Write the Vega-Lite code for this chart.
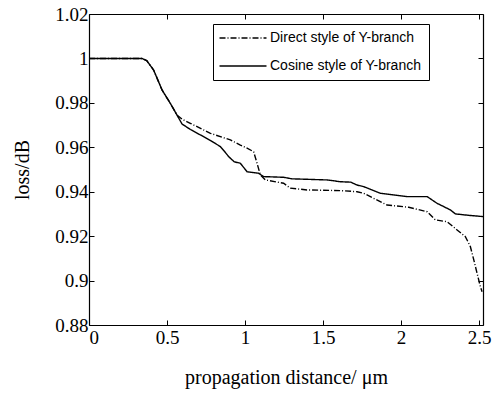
{
  "$schema": "https://vega.github.io/schema/vega-lite/v6.json",
  "width": 394,
  "height": 311,
  "autosize": {"type": "none"},
  "padding": {"left": 89, "top": 14, "right": 12, "bottom": 68},
  "background": "white",
  "config": {
    "view": {"stroke": null},
    "axis": {"grid": false, "domainColor": "black", "tickColor": "black", "labelColor": "black", "titleColor": "black", "labelFont": "Liberation Serif", "titleFont": "Liberation Serif", "labelFontSize": 19, "titleFontSize": 20, "titleFontWeight": "normal", "domainWidth": 1.2, "tickWidth": 1},
    "legend": {"orient": "none", "legendX": 124, "legendY": 10, "strokeColor": "black", "padding": 7, "symbolType": "M-4,0H4", "symbolSize": 138, "symbolOffset": 16, "symbolStrokeColor": "black", "symbolStrokeWidth": 1.4, "labelFont": "Liberation Sans", "labelFontSize": 14, "labelOffset": 20, "rowPadding": 14, "labelColor": "black", "fillColor": "white"}
  },
  "data": {"values": [
    {"x": 0, "loss": 1.0, "series": "Direct style of Y-branch"},
    {"x": 0.34, "loss": 1.0, "series": "Direct style of Y-branch"},
    {"x": 0.37, "loss": 0.999, "series": "Direct style of Y-branch"},
    {"x": 0.414, "loss": 0.9948, "series": "Direct style of Y-branch"},
    {"x": 0.468, "loss": 0.9858, "series": "Direct style of Y-branch"},
    {"x": 0.521, "loss": 0.9798, "series": "Direct style of Y-branch"},
    {"x": 0.564, "loss": 0.9745, "series": "Direct style of Y-branch"},
    {"x": 0.6, "loss": 0.9725, "series": "Direct style of Y-branch"},
    {"x": 0.649, "loss": 0.9708, "series": "Direct style of Y-branch"},
    {"x": 0.778, "loss": 0.9663, "series": "Direct style of Y-branch"},
    {"x": 0.906, "loss": 0.9633, "series": "Direct style of Y-branch"},
    {"x": 0.97, "loss": 0.961, "series": "Direct style of Y-branch"},
    {"x": 1.013, "loss": 0.9596, "series": "Direct style of Y-branch"},
    {"x": 1.055, "loss": 0.958, "series": "Direct style of Y-branch"},
    {"x": 1.077, "loss": 0.9528, "series": "Direct style of Y-branch"},
    {"x": 1.098, "loss": 0.9476, "series": "Direct style of Y-branch"},
    {"x": 1.13, "loss": 0.9453, "series": "Direct style of Y-branch"},
    {"x": 1.247, "loss": 0.9438, "series": "Direct style of Y-branch"},
    {"x": 1.29, "loss": 0.9416, "series": "Direct style of Y-branch"},
    {"x": 1.397, "loss": 0.9408, "series": "Direct style of Y-branch"},
    {"x": 1.611, "loss": 0.9405, "series": "Direct style of Y-branch"},
    {"x": 1.718, "loss": 0.94, "series": "Direct style of Y-branch"},
    {"x": 1.76, "loss": 0.9393, "series": "Direct style of Y-branch"},
    {"x": 1.824, "loss": 0.937, "series": "Direct style of Y-branch"},
    {"x": 1.91, "loss": 0.934, "series": "Direct style of Y-branch"},
    {"x": 2.049, "loss": 0.933, "series": "Direct style of Y-branch"},
    {"x": 2.167, "loss": 0.931, "series": "Direct style of Y-branch"},
    {"x": 2.22, "loss": 0.9273, "series": "Direct style of Y-branch"},
    {"x": 2.295, "loss": 0.9265, "series": "Direct style of Y-branch"},
    {"x": 2.359, "loss": 0.9228, "series": "Direct style of Y-branch"},
    {"x": 2.412, "loss": 0.9198, "series": "Direct style of Y-branch"},
    {"x": 2.444, "loss": 0.9153, "series": "Direct style of Y-branch"},
    {"x": 2.466, "loss": 0.9093, "series": "Direct style of Y-branch"},
    {"x": 2.487, "loss": 0.9033, "series": "Direct style of Y-branch"},
    {"x": 2.508, "loss": 0.8973, "series": "Direct style of Y-branch"},
    {"x": 2.519, "loss": 0.895, "series": "Direct style of Y-branch"},
    {"x": 0, "loss": 1.0, "series": "Cosine style of Y-branch"},
    {"x": 0.34, "loss": 1.0, "series": "Cosine style of Y-branch"},
    {"x": 0.37, "loss": 0.999, "series": "Cosine style of Y-branch"},
    {"x": 0.414, "loss": 0.9948, "series": "Cosine style of Y-branch"},
    {"x": 0.468, "loss": 0.9858, "series": "Cosine style of Y-branch"},
    {"x": 0.521, "loss": 0.9798, "series": "Cosine style of Y-branch"},
    {"x": 0.564, "loss": 0.9745, "series": "Cosine style of Y-branch"},
    {"x": 0.596, "loss": 0.9705, "series": "Cosine style of Y-branch"},
    {"x": 0.65, "loss": 0.968, "series": "Cosine style of Y-branch"},
    {"x": 0.713, "loss": 0.9656, "series": "Cosine style of Y-branch"},
    {"x": 0.78, "loss": 0.963, "series": "Cosine style of Y-branch"},
    {"x": 0.842, "loss": 0.9603, "series": "Cosine style of Y-branch"},
    {"x": 0.87, "loss": 0.958, "series": "Cosine style of Y-branch"},
    {"x": 0.895, "loss": 0.9558, "series": "Cosine style of Y-branch"},
    {"x": 0.93, "loss": 0.9535, "series": "Cosine style of Y-branch"},
    {"x": 0.97, "loss": 0.9528, "series": "Cosine style of Y-branch"},
    {"x": 1.013, "loss": 0.949, "series": "Cosine style of Y-branch"},
    {"x": 1.087, "loss": 0.9483, "series": "Cosine style of Y-branch"},
    {"x": 1.119, "loss": 0.9468, "series": "Cosine style of Y-branch"},
    {"x": 1.247, "loss": 0.9465, "series": "Cosine style of Y-branch"},
    {"x": 1.301, "loss": 0.9458, "series": "Cosine style of Y-branch"},
    {"x": 1.526, "loss": 0.9453, "series": "Cosine style of Y-branch"},
    {"x": 1.611, "loss": 0.9445, "series": "Cosine style of Y-branch"},
    {"x": 1.677, "loss": 0.9443, "series": "Cosine style of Y-branch"},
    {"x": 1.718, "loss": 0.943, "series": "Cosine style of Y-branch"},
    {"x": 1.76, "loss": 0.9423, "series": "Cosine style of Y-branch"},
    {"x": 1.867, "loss": 0.9393, "series": "Cosine style of Y-branch"},
    {"x": 2.038, "loss": 0.9378, "series": "Cosine style of Y-branch"},
    {"x": 2.167, "loss": 0.9378, "series": "Cosine style of Y-branch"},
    {"x": 2.23, "loss": 0.9348, "series": "Cosine style of Y-branch"},
    {"x": 2.316, "loss": 0.9318, "series": "Cosine style of Y-branch"},
    {"x": 2.348, "loss": 0.93, "series": "Cosine style of Y-branch"},
    {"x": 2.444, "loss": 0.9293, "series": "Cosine style of Y-branch"},
    {"x": 2.525, "loss": 0.9288, "series": "Cosine style of Y-branch"}
  ]},
  "layer": [
    {
      "mark": {"type": "line", "color": "black", "strokeWidth": 1.4, "clip": true},
      "encoding": {
        "x": {"field": "x", "type": "quantitative", "scale": {"domain": [0, 2.525], "nice": false, "zero": false},
              "axis": {"values": [0, 0.5, 1, 1.5, 2, 2.5], "format": "~g", "tickSize": -5, "labelPadding": 8, "title": "propagation distance/ μm", "titlePadding": 20}},
        "y": {"field": "loss", "type": "quantitative", "scale": {"domain": [0.88, 1.02], "nice": false, "zero": false},
              "axis": {"values": [0.88, 0.9, 0.92, 0.94, 0.96, 0.98, 1, 1.02], "format": "~g", "tickSize": -5, "labelPadding": 6, "title": "loss/dB", "titlePadding": 22}},
        "strokeDash": {"field": "series", "type": "nominal",
              "scale": {"domain": ["Direct style of Y-branch", "Cosine style of Y-branch"], "range": [[6, 2, 1, 2], [1, 0]]},
              "legend": {"title": null}}
      }
    },
    {
      "mark": {"type": "line", "opacity": 0},
      "encoding": {
        "x": {"field": "x", "type": "quantitative", "axis": {"orient": "top", "values": [0, 0.5, 1, 1.5, 2, 2.5], "tickSize": -5, "labels": false, "title": null}},
        "y": {"field": "loss", "type": "quantitative", "axis": {"orient": "right", "values": [0.88, 0.9, 0.92, 0.94, 0.96, 0.98, 1, 1.02], "tickSize": -5, "labels": false, "title": null}}
      }
    }
  ],
  "resolve": {"axis": {"x": "independent", "y": "independent"}}
}
